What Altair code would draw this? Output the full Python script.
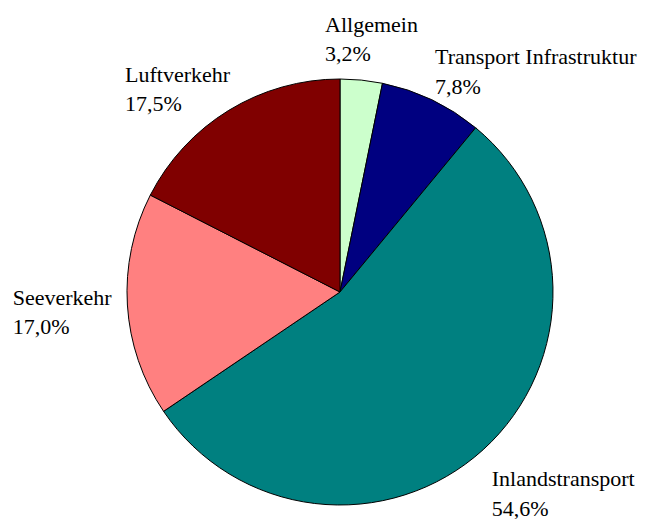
import altair as alt
import pandas as pd

categories = ["Allgemein", "Transport Infrastruktur", "Inlandstransport", "Seeverkehr", "Luftverkehr"]
values = [3.2, 7.8, 54.6, 17.0, 17.5]
colors = ["#CCFFCC", "#000080", "#008080", "#FF8080", "#800000"]

df = pd.DataFrame({"cat": categories, "value": values, "idx": list(range(len(categories)))})

CX, CY, R_PIE, R_LAB = 332, 284, 213, 240

pie = alt.Chart(df).mark_arc(outerRadius=R_PIE, stroke="black", strokeWidth=1).encode(
    theta=alt.Theta("value:Q", stack=True),
    color=alt.Color("cat:N", scale=alt.Scale(domain=categories, range=colors), legend=None),
    order=alt.Order("idx:Q"),
    x=alt.value(CX),
    y=alt.value(CY),
)

label_base = (
    alt.Chart(df)
    .transform_window(cum="sum(value)", sort=[alt.SortField("idx")], frame=[None, 0])
    .transform_joinaggregate(total="sum(value)")
    .transform_calculate(ang="2*PI*(datum.cum - datum.value/2)/datum.total")
    .transform_calculate(
        px=f"{CX} + {R_LAB}*sin(datum.ang)",
        py=f"{CY} - {R_LAB}*cos(datum.ang)",
        label="datum.cat + '\\n' + replace(format(datum.value, '.1f'), '.', ',') + '%'",
    )
)

nudges = {
    "Allgemein": (-39, -21.5),
    "Transport Infrastruktur": (-8.4, -11.4),
    "Inlandstransport": (-9.7, 16.4),
    "Seeverkehr": (-87.7, -1.7),
    "Luftverkehr": (-89.7, -5.6),
}

layers = [pie]
for c in categories:
    dx, dy = nudges[c]
    layers.append(
        label_base.transform_filter(alt.datum.cat == c)
        .mark_text(
            align="left", baseline="alphabetic", font="Liberation Serif", fontSize=22,
            lineHeight=29.5, lineBreak="\n", color="black", dx=dx, dy=dy,
        )
        .encode(
            x=alt.X("px:Q", scale=None, axis=None),
            y=alt.Y("py:Q", scale=None, axis=None),
            text="label:N",
        )
    )

chart = alt.layer(*layers).properties(
    width=631, height=511, autosize=alt.AutoSizeParams(type="none"), padding=0,
    background="white",
).configure_view(stroke=None)

chart.save("out.html", embed_options={"renderer": "svg", "actions": False})
